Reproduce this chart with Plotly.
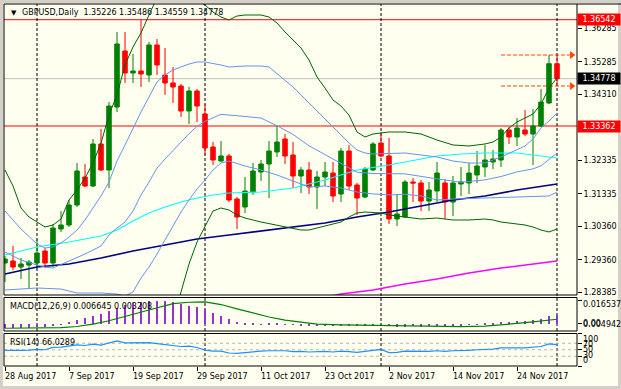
import plotly.graph_objects as go

# ---------------- data ----------------
dates = ["2017-08-28","2017-08-29","2017-08-30","2017-08-31","2017-09-01",
 "2017-09-04","2017-09-05","2017-09-06","2017-09-07","2017-09-08",
 "2017-09-11","2017-09-12","2017-09-13","2017-09-14","2017-09-15",
 "2017-09-18","2017-09-19","2017-09-20","2017-09-21","2017-09-22",
 "2017-09-25","2017-09-26","2017-09-27","2017-09-28","2017-09-29",
 "2017-10-02","2017-10-03","2017-10-04","2017-10-05","2017-10-06",
 "2017-10-09","2017-10-10","2017-10-11","2017-10-12","2017-10-13",
 "2017-10-16","2017-10-17","2017-10-18","2017-10-19","2017-10-20",
 "2017-10-23","2017-10-24","2017-10-25","2017-10-26","2017-10-27",
 "2017-10-30","2017-10-31","2017-11-01","2017-11-02","2017-11-03",
 "2017-11-06","2017-11-07","2017-11-08","2017-11-09","2017-11-10",
 "2017-11-13","2017-11-14","2017-11-15","2017-11-16","2017-11-17",
 "2017-11-20","2017-11-21","2017-11-22","2017-11-23","2017-11-24",
 "2017-11-27","2017-11-28","2017-11-29","2017-11-30","2017-12-01"]

open_ = [1.29263,1.29323,1.29143,1.29203,1.29263,1.29622,1.29263,1.30280,1.30400,1.30998,
 1.31836,1.31567,1.32824,1.32046,1.33930,1.35606,1.34948,1.35008,1.34888,1.35786,
 1.34888,1.34649,1.34559,1.33811,1.34409,1.33721,1.32734,1.32315,1.32465,1.31178,
 1.30939,1.31387,1.31986,1.32225,1.32584,1.32973,1.32494,1.31866,1.32046,1.31537,
 1.31836,1.31956,1.31327,1.32614,1.31597,1.31238,1.32046,1.32853,1.32465,1.30579,
 1.30639,1.31687,1.31657,1.31118,1.31417,1.31657,1.31088,1.31627,1.31657,1.31896,
 1.32135,1.32285,1.32345,1.33242,1.33033,1.33242,1.33123,1.33362,1.34050,1.35226]
high = [1.29472,1.29772,1.29413,1.29353,1.29983,1.29712,1.30430,1.30819,1.31148,1.32255,
 1.32225,1.32973,1.33272,1.34080,1.36175,1.36175,1.35516,1.36542,1.35875,1.35965,
 1.35696,1.35127,1.34619,1.34529,1.34469,1.34020,1.32883,1.32913,1.32524,1.31238,
 1.31836,1.32255,1.32345,1.32913,1.33362,1.33123,1.32883,1.32135,1.32285,1.32016,
 1.32285,1.32285,1.32704,1.32794,1.31657,1.32135,1.32883,1.33183,1.33003,1.31327,
 1.31746,1.31806,1.31746,1.31687,1.32285,1.31776,1.31866,1.32135,1.32255,1.32614,
 1.32794,1.32644,1.33302,1.33332,1.33601,1.33841,1.33871,1.34469,1.35486,1.35486]
low = [1.28695,1.29054,1.28784,1.28515,1.29084,1.29113,1.29143,1.30191,1.30340,1.30939,
 1.31537,1.31537,1.32016,1.31507,1.33781,1.34649,1.34649,1.34529,1.34679,1.34888,
 1.34290,1.34050,1.33631,1.33422,1.33482,1.32494,1.32195,1.32285,1.31088,1.30280,
 1.30759,1.31298,1.31717,1.31208,1.32435,1.32225,1.31507,1.31357,1.31327,1.30879,
 1.31567,1.31088,1.31088,1.31447,1.30699,1.31208,1.32016,1.32435,1.30430,1.30370,
 1.30609,1.31088,1.30819,1.30819,1.31088,1.30579,1.30669,1.31268,1.31327,1.31657,
 1.31836,1.32076,1.32135,1.32824,1.32764,1.33063,1.32195,1.33332,1.34020,1.34559]
close = [1.29382,1.29143,1.29233,1.29293,1.29562,1.29263,1.30310,1.30400,1.30998,1.32016,
 1.31567,1.32824,1.32046,1.33960,1.35816,1.34948,1.35008,1.34918,1.35786,1.35187,
 1.34649,1.34529,1.33811,1.34409,1.33960,1.32704,1.32345,1.32465,1.31148,1.30639,
 1.31417,1.32016,1.32225,1.32614,1.32883,1.32465,1.31866,1.32046,1.31537,1.31836,
 1.31986,1.31268,1.32614,1.31567,1.31208,1.32076,1.32824,1.32465,1.30579,1.30729,
 1.31687,1.31657,1.31118,1.31447,1.31956,1.31088,1.31657,1.31687,1.31956,1.32165,
 1.32345,1.32375,1.33242,1.33033,1.33302,1.33123,1.33362,1.34080,1.35226,1.34778]

# Bollinger (20,2) bands - dark green  (bar index, price)
bb2_upper = [(0,1.32046),(1,1.31567),(2,1.30909),(3,1.30639),(4,1.30490),(5,1.30340),(6,1.30400),
 (7,1.30579),(8,1.31148),(9,1.31447),(10,1.31806),(11,1.32255),(12,1.32853),(13,1.33691),
 (14,1.34290),(15,1.35187),(16,1.35726),(17,1.36145),(18,1.36683),(19,1.37200),(20,1.37380),
 (21,1.37450),(22,1.37420),(23,1.37300),(24,1.37120),(25,1.36982),(26,1.36773),(27,1.36623),
 (28,1.36534),(29,1.36653),(30,1.36683),(32,1.36683),(33,1.36623),(34,1.36444),(35,1.36175),
 (36,1.35935),(37,1.35696),(38,1.35337),(39,1.34828),(40,1.34499),(41,1.34140),(42,1.33960),
 (43,1.33691),(44,1.33183),(45,1.33033),(46,1.33123),(47,1.33153),(48,1.33183),(50,1.33183),
 (52,1.33123),(54,1.32943),(56,1.32794),(58,1.32764),(60,1.32824),(61,1.32883),(62,1.33033),
 (63,1.33302),(64,1.33482),(65,1.33601),(66,1.33721),(67,1.34020),(68,1.34499),(69,1.34798)]
bb2_lower = [(21,1.27558),(22,1.28365),(23,1.29233),(24,1.29891),(25,1.30370),(26,1.30819),
 (27,1.30909),(28,1.30849),(29,1.30699),(30,1.30609),(32,1.30490),(34,1.30400),(36,1.30310),
 (37,1.30250),(38,1.30250),(39,1.30310),(40,1.30370),(41,1.30430),(42,1.30490),(43,1.30639),
 (44,1.30759),(45,1.30789),(47,1.30759),(48,1.30699),(50,1.30639),(52,1.30579),(54,1.30609),
 (56,1.30550),(58,1.30550),(60,1.30579),(61,1.30550),(62,1.30490),(64,1.30430),(65,1.30400),
 (66,1.30340),(67,1.30250),(68,1.30191),(69,1.30280)]
# Bollinger (20,1) bands + middle - cornflower blue
bb1_upper = [(0,1.30819),(2,1.30280),(4,1.29832),(5,1.29712),(6,1.29742),(7,1.29862),(8,1.30041),
 (9,1.30250),(10,1.30550),(11,1.30909),(12,1.31268),(13,1.31687),(14,1.32315),(15,1.32794),
 (16,1.33302),(17,1.33781),(18,1.34230),(19,1.34679),(20,1.34888),(21,1.35038),(22,1.35127),
 (23,1.35217),(24,1.35277),(25,1.35277),(27,1.35187),(28,1.35127),(30,1.35157),(32,1.35157),
 (33,1.35127),(34,1.34918),(35,1.34738),(36,1.34529),(37,1.34290),(38,1.34050),(39,1.33811),
 (40,1.33542),(41,1.33332),(42,1.33093),(43,1.32853),(44,1.32644),(45,1.32554),(46,1.32524),
 (50,1.32554),(54,1.32435),(56,1.32315),(58,1.32255),(60,1.32255),(62,1.32435),(64,1.32644),
 (65,1.32764),(66,1.32973),(67,1.33302),(68,1.33512),(69,1.33751)]
bb_middle = [(0,1.29592),(2,1.29353),(4,1.29203),(5,1.29143),(6,1.29113),(8,1.29323),(10,1.29532),
 (12,1.29772),(13,1.30101),(14,1.30310),(15,1.30490),(16,1.30819),(17,1.31298),(18,1.31687),
 (19,1.32105),(20,1.32375),(21,1.32630),(22,1.32900),(23,1.33130),(24,1.33350),(25,1.33500),
 (26,1.33610),(27,1.33710),(29,1.33670),(32,1.33600),(34,1.33370),(36,1.33110),(38,1.32770),
 (40,1.32500),(42,1.32250),(44,1.31980),(46,1.31940),(50,1.31930),(54,1.31780),(57,1.31680),
 (60,1.31750),(62,1.31850),(64,1.31990),(66,1.32080),(67,1.32170),(68,1.32370),(69,1.32554)]
bb1_lower = [(0,1.28455),(4,1.28515),(7,1.28485),(9,1.28365),(12,1.28365),(14,1.28335),(15,1.28276),
 (16,1.28395),(17,1.28814),(18,1.29143),(19,1.29532),(20,1.29951),(21,1.30370),(22,1.30789),
 (23,1.31148),(24,1.31477),(25,1.31746),(26,1.32046),(27,1.32255),(28,1.32315),(30,1.32165),
 (32,1.32046),(34,1.31896),(36,1.31717),(38,1.31537),(40,1.31567),(42,1.31507),(44,1.31387),
 (46,1.31330),(48,1.31300),(50,1.31320),(52,1.31268),(54,1.31148),(56,1.31178),(60,1.31208),
 (64,1.31238),(68,1.31268),(69,1.31387)]
# moving averages
ma_cyan = [(0,1.29502),(4,1.29742),(8,1.29892),(12,1.30071),(14,1.30250),(16,1.30520),(18,1.30759),
 (20,1.30939),(22,1.31088),(24,1.31208),(26,1.31298),(28,1.31357),(32,1.31387),(36,1.31507),
 (40,1.31746),(44,1.32046),(48,1.32195),(52,1.32375),(54,1.32465),(57,1.32524),(60,1.32554),
 (64,1.32554),(66,1.32494),(69,1.32405)]
ma_navy = [(0,1.28934),(4,1.29143),(8,1.29233),(12,1.29413),(16,1.29622),(20,1.29802),(24,1.29981),
 (28,1.30101),(32,1.30221),(36,1.30340),(40,1.30460),(44,1.30639),(48,1.30789),(52,1.30968),
 (56,1.31148),(60,1.31268),(64,1.31447),(69,1.31627)]
ma_magenta = [(38,1.28156),(42,1.28335),(46,1.28455),(50,1.28635),(54,1.28784),(58,1.28964),
 (62,1.29113),(66,1.29233),(69,1.29323)]

macd_main = [-0.0026,-0.0026,-0.0024,-0.0023,-0.0020,-0.0017,-0.0010,-0.0004,0.0018,0.0032,
 0.0046,0.0060,0.0070,0.0090,0.0115,0.0132,0.0146,0.0156,0.0163,0.0165,
 0.0160,0.0152,0.0140,0.0130,0.0120,0.0106,0.0080,0.0060,0.0040,0.0020,
 0.0010,0.0004,0.0002,0.0003,0.0004,0.0002,-0.0003,-0.0005,-0.0008,-0.0008,
 -0.0007,-0.0010,-0.0006,-0.0008,-0.0012,-0.0008,-0.0002,0.0002,-0.0012,-0.0018,
 -0.0015,-0.0013,-0.0015,-0.0013,-0.0009,-0.0011,-0.0008,-0.0006,-0.0003,0.0001,
 0.0004,0.0006,0.0014,0.0020,0.0025,0.0027,0.0030,0.0038,0.0056,0.006645]
macd_signal = [(0,-0.0030),(5,-0.0030),(7,-0.0026),(9,-0.0018),(11,-0.0002),(13,0.0022),(15,0.0050),
 (18,0.0096),(21,0.0140),(23,0.0150),(25,0.0152),(27,0.0134),(29,0.0104),(31,0.0075),(33,0.0048),
 (35,0.0026),(37,0.0010),(39,-0.0002),(42,-0.0007),(46,-0.0009),(50,-0.0013),(54,-0.0018),
 (57,-0.0019),(60,-0.0015),(62,-0.0008),(64,0.0003),(66,0.0014),(68,0.0024),(69,0.003208)]
rsi = [48,47,48,49,51,50,57,58,61,65,
 63,67,64,70,77,71,71,70,72,69,
 66,65,60,61,57,49,46,46,40,39,
 42,45,46,47,48,47,44,45,43,44,
 45,43,46,44,42,45,49,51,41,42,
 46,46,44,45,47,45,47,47,48,50,
 51,52,56,55,56,56,57,60,68,66.0289]
rsi_levels = [70, 50, 30]

price_ticks = [1.36285, 1.35285, 1.34310, 1.32335, 1.31335, 1.30360, 1.29360, 1.28385]
red_levels = [1.36542, 1.33362]
bid_price = 1.34778
hl_levels = [1.35486, 1.34559]
hl_start = "2017-11-22"
month_starts = ["2017-09-01", "2017-10-02", "2017-11-01", "2017-12-01"]
label_dates = ["2017-08-28","2017-09-07","2017-09-19","2017-09-29","2017-10-11",
               "2017-10-23","2017-11-02","2017-11-14","2017-11-24"]
label_texts = ["28 Aug 2017","7 Sep 2017","19 Sep 2017","29 Sep 2017","11 Oct 2017",
               "23 Oct 2017","2 Nov 2017","14 Nov 2017","24 Nov 2017"]
title_text = "GBPUSD,Daily\u00a0\u00a01.35226 1.35486 1.34559 1.34778"
macd_text = "MACD(12,26,9) 0.006645 0.003208"
rsi_text = "RSI(14) 66.0289"
macd_scale = ["0.016537", "0.00", "0.004942"]
rsi_scale = ["100", "70", "50", "30", "0"]

# ---------------- layout geometry ----------------
W, H = 621, 389
ML, MR, MT, MB = 4, 44, 4, 23
PW, PH = W - ML - MR, H - MT - MB
def pxx(px): return (px - ML) / PW
def pxy(py): return (H - MB - py) / PH

FONT = "DejaVu Sans"
BG = "#FFFFF0"
idx = {d: i for i, d in enumerate(dates)}
xi = list(range(len(dates)))
last = xi[-1]

fig = go.Figure()
fig.add_trace(go.Candlestick(
    x=xi, open=open_, high=high, low=low, close=close,
    increasing=dict(line=dict(color="#008000", width=1), fillcolor="#008000"),
    decreasing=dict(line=dict(color="#FF0000", width=1), fillcolor="#FF0000"),
    whiskerwidth=0, showlegend=False, hoverinfo="skip", xaxis="x", yaxis="y"))

def add_line(pts, color, width, yaxis="y"):
    fig.add_trace(go.Scatter(x=[p[0] for p in pts], y=[p[1] for p in pts], mode="lines",
                             line=dict(color=color, width=width), showlegend=False,
                             hoverinfo="skip", xaxis="x", yaxis=yaxis))

add_line(ma_magenta, "#FF00FF", 1.5)
add_line(ma_navy, "#000080", 1.6)
add_line(ma_cyan, "#00FFFF", 1.2)
add_line(bb1_upper, "#6495ED", 1)
add_line(bb_middle, "#6495ED", 1)
add_line(bb1_lower, "#6495ED", 1)
add_line(bb2_upper, "#006400", 1)
add_line(bb2_lower, "#006400", 1)

# high/low arrows
fig.add_trace(go.Scatter(x=[last + 1.85] * len(hl_levels), y=hl_levels, mode="markers",
                         marker=dict(symbol="triangle-right", size=7, color="#FF4500"),
                         showlegend=False, hoverinfo="skip", xaxis="x", yaxis="y"))

# MACD
fig.add_trace(go.Bar(x=xi, y=macd_main, width=0.22, marker=dict(color="#9932CC", line=dict(width=0)),
                     showlegend=False, hoverinfo="skip", xaxis="x", yaxis="y2"))
add_line(macd_signal, "#008000", 1.2, "y2")
# RSI
fig.add_trace(go.Scatter(x=xi, y=rsi, mode="lines", line=dict(color="#1E90FF", width=1.2),
                         showlegend=False, hoverinfo="skip", xaxis="x", yaxis="y3"))

shapes = []
# outer window border
shapes.append(dict(type="rect", xref="paper", yref="paper", x0=pxx(1.5), x1=pxx(619.5),
                   y0=pxy(387.5), y1=pxy(1.5), line=dict(color="#D4D0C8", width=3), layer="above"))
# panel frames
for yr in ["y domain", "y2 domain", "y3 domain"]:
    shapes.append(dict(type="rect", xref="paper", yref=yr, x0=0, x1=1, y0=0, y1=1,
                       line=dict(color="black", width=1), layer="above"))
shapes.append(dict(type="line", xref="paper", yref="y domain", x0=1, x1=pxx(621), y0=1, y1=1,
                   line=dict(color="black", width=1), layer="above"))
# horizontal levels
for lv in red_levels:
    shapes.append(dict(type="line", xref="paper", yref="y", x0=0, x1=1, y0=lv, y1=lv,
                       line=dict(color="#FF0000", width=1), layer="below"))
shapes.append(dict(type="line", xref="paper", yref="y", x0=0, x1=1, y0=bid_price, y1=bid_price,
                   line=dict(color="#C0C0C0", width=1), layer="below"))
for lv in hl_levels:
    shapes.append(dict(type="line", xref="x", yref="y", x0=idx[hl_start], x1=last + 1.6, y0=lv, y1=lv,
                       line=dict(color="#FF4500", width=1, dash="4px,2px"), layer="below"))
for d in month_starts:
    shapes.append(dict(type="line", xref="x", yref="paper", x0=idx[d], x1=idx[d], y0=0, y1=1,
                       line=dict(color="black", width=1, dash="3px,2px"), layer="below"))
for lv in rsi_levels:
    shapes.append(dict(type="line", xref="paper", yref="y3", x0=0, x1=1, y0=lv, y1=lv,
                       line=dict(color="#B4B4B4", width=1, dash="3px,3px"), layer="below"))

ann = []
f8 = dict(family=FONT, size=8, color="black")
ann.append(dict(xref="paper", yref="paper", x=pxx(9), y=pxy(12.5), text="\u25BC", showarrow=False,
                xanchor="left", yanchor="middle", font=dict(family=FONT, size=7, color="black")))
ann.append(dict(xref="paper", yref="paper", x=pxx(20), y=pxy(12), text=title_text, showarrow=False,
                xanchor="left", yanchor="middle", font=f8))
for lv in red_levels:
    ann.append(dict(xref="paper", yref="y", x=1, y=lv, xanchor="left", yanchor="middle", xshift=0,
                    text=f"{lv:.5f}", showarrow=False, bgcolor="#FF0000", borderpad=1, width=40,
                    align="center", font=dict(family=FONT, size=8, color="white")))
ann.append(dict(xref="paper", yref="y", x=1, y=bid_price, xanchor="left", yanchor="middle", xshift=0,
                text=f"{bid_price:.5f}", showarrow=False, bgcolor="#000000", borderpad=1, width=40,
                align="center", font=dict(family=FONT, size=8, color="white")))
ann.append(dict(xref="paper", yref="paper", x=pxx(8), y=pxy(306), text=macd_text, showarrow=False,
                xanchor="left", yanchor="middle", font=f8))
ann.append(dict(xref="paper", yref="paper", x=pxx(8), y=pxy(342), text=rsi_text, showarrow=False,
                xanchor="left", yanchor="middle", font=f8))
for t, yy in zip(macd_scale, [304, 323, 324.5]):
    ann.append(dict(xref="paper", yref="paper", x=pxx(581), y=pxy(yy), text=t, showarrow=False,
                    xanchor="left", yanchor="middle", font=f8))
for t, yy in zip(rsi_scale, [339, 344, 349.5, 355.5, 360.5]):
    ann.append(dict(xref="paper", yref="paper", x=pxx(581), y=pxy(yy), text=t, showarrow=False,
                    xanchor="left", yanchor="middle", font=f8))
for d, t in zip(label_dates, label_texts):
    ann.append(dict(xref="x", yref="paper", x=idx[d], y=pxy(376), text=t, showarrow=False,
                    xanchor="left", yanchor="middle", xshift=-2, font=f8))

fig.update_layout(
    width=W, height=H, margin=dict(l=ML, r=MR, t=MT, b=MB),
    paper_bgcolor=BG, plot_bgcolor="rgba(0,0,0,0)",
    showlegend=False, boxgap=0.2, bargap=0,
    shapes=shapes, annotations=ann,
    xaxis=dict(range=[-0.125, 71.5], anchor="y3", showgrid=False, zeroline=False, showline=False,
               ticks="outside", ticklen=4, tickcolor="black", tickvals=[idx[d] for d in label_dates],
               showticklabels=False, rangeslider=dict(visible=False), fixedrange=True),
    yaxis=dict(domain=[pxy(295), 1], range=[1.28306, 1.37012], side="right", anchor="x",
               showgrid=False, zeroline=False, showline=False, ticks="outside", ticklen=4,
               tickcolor="black", tickvals=price_ticks, ticktext=[f"{v:.5f}" for v in price_ticks],
               tickfont=f8),
    yaxis2=dict(domain=[pxy(331), pxy(297.5)], range=[-0.00491, 0.01827], side="right", anchor="x",
                showgrid=False, zeroline=False, showline=False, ticks="outside", ticklen=4,
                tickcolor="black", tickvals=[0.016537, 0], showticklabels=False),
    yaxis3=dict(domain=[0, pxy(333.5)], range=[0, 100], side="right", anchor="x",
                showgrid=False, zeroline=False, showline=False, ticks="outside", ticklen=4,
                tickcolor="black", tickvals=[100, 70, 50, 30, 0], showticklabels=False),
)

fig.write_html("out.html", config={"displayModeBar": False},
               post_script="document.body.style.margin='0';document.body.style.overflow='hidden';")
